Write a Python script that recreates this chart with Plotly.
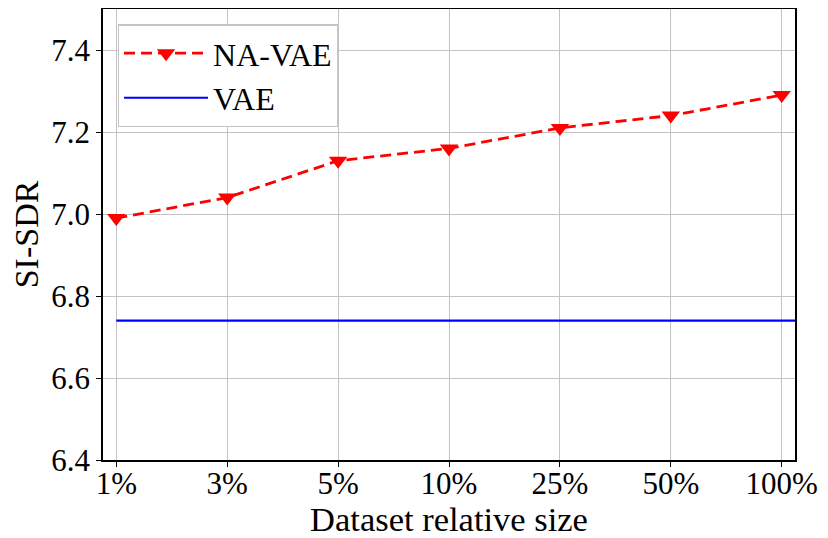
import plotly.graph_objects as go

categories = ["1%", "3%", "5%", "10%", "25%", "50%", "100%"]
na_vae = [6.99, 7.04, 7.13, 7.16, 7.21, 7.24, 7.29]
vae_value = 6.74
y_ticks = [6.4, 6.6, 6.8, 7.0, 7.2, 7.4]

xpos = list(range(len(categories)))
xmin, xmax = -0.12, len(categories) - 1 + 0.12

fig = go.Figure()
fig.add_trace(go.Scatter(
    x=xpos, y=na_vae, name="NA-VAE", mode="lines+markers",
    line=dict(color="#ff0000", width=2.8, dash="11px,6px"),
    marker=dict(symbol="triangle-down", size=16, color="#ff0000"),
    cliponaxis=False,
))
fig.add_shape(
    type="line", xref="x domain", yref="y",
    x0=(0 - xmin) / (xmax - xmin), x1=1, y0=vae_value, y1=vae_value,
    line=dict(color="#0000ff", width=2.2), name="VAE", showlegend=True, layer="above",
)

font = "Liberation Serif, Times New Roman, serif"
# page body adds an 8px margin, so the figure is 820x530
fig.update_layout(
    width=820, height=530,
    margin=dict(l=95, r=33, t=1, b=78),
    paper_bgcolor="white", plot_bgcolor="white",
    font=dict(family=font, size=31, color="black"),
    showlegend=True,
    legend=dict(
        x=0.021, y=0.966, xanchor="left", yanchor="top",
        bgcolor="white", bordercolor="#c4c4c4", borderwidth=1.5,
        font=dict(family=font, size=32), itemwidth=84,
        tracegroupgap=0,
    ),
    xaxis=dict(
        range=[xmin, xmax], tickmode="array", tickvals=xpos, ticktext=categories,
        showgrid=True, gridcolor="#c4c4c4", gridwidth=1.2,
        showline=True, linecolor="black", linewidth=1.5, mirror=True,
        ticks="outside", ticklen=5, tickcolor="black", zeroline=False,
        title=dict(text="Dataset relative size", font=dict(size=34.5), standoff=13),
        tickfont=dict(size=31), ticklabelstandoff=-10,
        automargin=False,
    ),
    yaxis=dict(
        range=[6.4, 7.5], tickmode="array", tickvals=y_ticks,
        ticktext=[f"{v:.1f}" for v in y_ticks],
        showgrid=True, gridcolor="#c4c4c4", gridwidth=1.2,
        showline=True, linecolor="black", linewidth=1.5, mirror=True,
        ticks="outside", ticklen=5, tickcolor="black", zeroline=False,
        title=dict(text="SI-SDR", font=dict(size=34), standoff=6),
        tickfont=dict(size=31),
        automargin=False,
    ),
)

fig.write_html("out.html")
